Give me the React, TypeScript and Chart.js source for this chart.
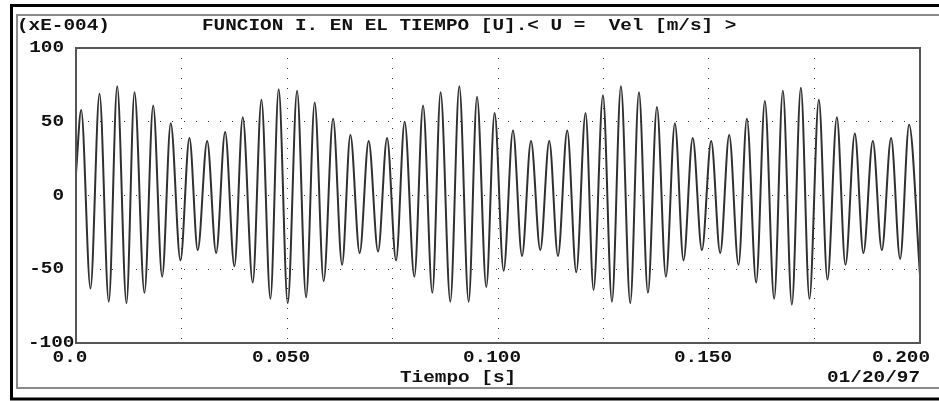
import React, { useEffect, useRef } from "react";
import { Chart, registerables } from "chart.js";

Chart.register(...registerables);

// Signal extremes (time in s, value in units of 1E-4)
const startPoint = [0, 15];
const endPoint = [0.2, -54];

const maxTimes = [
  0.00123, 0.00557, 0.00976, 0.01386, 0.01829, 0.02245, 0.02688, 0.03108, 0.03534, 0.03951,
  0.04394, 0.04803, 0.05239, 0.05656, 0.06092, 0.06502, 0.06935, 0.07371, 0.07788, 0.08224,
  0.0864, 0.09083, 0.09503, 0.09919, 0.10355, 0.10782, 0.11215, 0.11641, 0.12075, 0.12487,
  0.12913, 0.1334, 0.13766, 0.14192, 0.14614, 0.15052, 0.15479, 0.15898, 0.16324, 0.1675,
  0.17177, 0.17603, 0.1803, 0.18456, 0.18882, 0.19315, 0.19742,
];
const maxValues = [
  58, 69, 74, 70, 61, 49, 39, 37, 43, 53,
  65, 72, 71, 63, 52, 41, 37, 39, 50, 61,
  70, 74, 67, 56, 44, 37, 37, 44, 56, 68,
  74, 70, 60, 49, 39, 37, 41, 52, 64, 71,
  73, 65, 53, 42, 37, 39, 48,
];
const minTimes = [
  0.00343, 0.00777, 0.01196, 0.01622, 0.02042, 0.02475, 0.02885, 0.03321, 0.03754, 0.04188,
  0.04607, 0.05017, 0.05452, 0.05869, 0.06305, 0.06722, 0.07158, 0.07584, 0.08018, 0.08444,
  0.0887, 0.09304, 0.09723, 0.10133, 0.10569, 0.11002, 0.11421, 0.11855, 0.12264, 0.127,
  0.13134, 0.13553, 0.13979, 0.14396, 0.14832, 0.15265, 0.15699, 0.16118, 0.16544, 0.16963,
  0.1738, 0.17807, 0.18233, 0.18659, 0.19095, 0.19529,
];
const minValues = [
  -63, -72, -73, -66, -55, -44, -37, -39, -48, -59,
  -70, -73, -69, -58, -47, -39, -38, -44, -55, -66,
  -72, -72, -62, -51, -41, -37, -41, -52, -64, -72,
  -73, -66, -55, -44, -37, -39, -47, -59, -70, -74,
  -70, -57, -47, -39, -37, -43,
];

const xTickValues = [0, 0.05, 0.1, 0.15, 0.2];
const xTickLabels = ["0.0", "0.050", "0.100", "0.150", "0.200"];
const yTickValues = [100, 50, 0, -50, -100];
const yTickLabels = ["100", "50", "0", "-50", "-100"];

const scaleLabel = "(xE-004)";
const titleText = "FUNCION I. EN EL TIEMPO [U].< U =  Vel [m/s] >";
const xAxisTitle = "Tiempo [s]";
const dateText = "01/20/97";

const FONT = 'bold 16px "Liberation Mono", "DejaVu Sans Mono", monospace';
const SX = 1.21;
const TEXT_COLOR = "#111";

function drawText(ctx: CanvasRenderingContext2D, text: string, x: number, y: number, align: "left" | "right" | "center", minLeft = -Infinity) {
  ctx.save();
  ctx.font = FONT;
  ctx.textBaseline = "middle";
  ctx.textAlign = "left";
  const w = ctx.measureText(text).width * SX;
  let left = align === "left" ? x : align === "right" ? x - w : x - w / 2;
  if (left < minLeft) left = minLeft;
  ctx.translate(left, y);
  ctx.scale(SX, 1);
  ctx.fillStyle = TEXT_COLOR;
  ctx.fillText(text, 0, 0);
  ctx.restore();
}

const framePlugin = {
  id: "framePlugin",
  beforeDraw(chart: any) {
    const ctx: CanvasRenderingContext2D = chart.ctx;
    ctx.save();
    ctx.fillStyle = "#fff";
    ctx.fillRect(0, 0, chart.width, chart.height);
    // outer black frame
    ctx.strokeStyle = "#000";
    ctx.lineWidth = 3;
    ctx.beginPath();
    ctx.moveTo(950, 5.5);
    ctx.lineTo(11.5, 5.5);
    ctx.lineTo(11.5, 399);
    ctx.lineTo(950, 399);
    ctx.stroke();
    // inner gray frame
    ctx.strokeStyle = "#8a8a8a";
    ctx.lineWidth = 2;
    ctx.beginPath();
    ctx.moveTo(950, 15);
    ctx.lineTo(17, 15);
    ctx.lineTo(17, 388);
    ctx.lineTo(950, 388);
    ctx.stroke();
    ctx.restore();
  },
  afterDraw(chart: any) {
    const ctx: CanvasRenderingContext2D = chart.ctx;
    const area = chart.chartArea;
    const xs = chart.scales.x;
    const ys = chart.scales.y;
    // plot box
    ctx.save();
    ctx.strokeStyle = "#555";
    ctx.lineWidth = 2;
    ctx.strokeRect(area.left, area.top, area.right - area.left, area.bottom - area.top);
    ctx.restore();

    // titles
    drawText(ctx, scaleLabel, 17, 26, "left");
    drawText(ctx, titleText, 202, 26, "left");

    // y tick labels
    yTickValues.forEach((v, i) => {
      drawText(ctx, yTickLabels[i], area.left - 12, ys.getPixelForValue(v), "right", 28);
    });

    // x tick labels
    ctx.save();
    ctx.font = FONT;
    xTickValues.forEach((v, i) => {
      const w = ctx.measureText(xTickLabels[i]).width * SX;
      let cx = xs.getPixelForValue(v) - 6;
      const maxRight = area.right + 10;
      if (cx + w / 2 > maxRight) cx = maxRight - w / 2;
      drawText(ctx, xTickLabels[i], cx, 357.5, "center");
    });
    ctx.restore();

    drawText(ctx, xAxisTitle, 400, 378, "left");
    drawText(ctx, dateText, 920, 378, "right");
  },
};

export default function App() {
  const canvasRef = useRef<HTMLCanvasElement | null>(null);

  useEffect(() => {
    if (!canvasRef.current) return;
    const points: { x: number; y: number }[] = [{ x: startPoint[0], y: startPoint[1] }];
    for (let i = 0; i < maxTimes.length; i++) {
      points.push({ x: maxTimes[i], y: maxValues[i] });
      if (i < minTimes.length) points.push({ x: minTimes[i], y: minValues[i] });
    }
    points.push({ x: endPoint[0], y: endPoint[1] });

    const chart = new Chart(canvasRef.current, {
      type: "line",
      data: {
        datasets: [
          {
            data: points,
            borderColor: "#303030",
            borderWidth: 2,
            pointRadius: 0,
            fill: false,
            cubicInterpolationMode: "monotone",
          },
        ],
      },
      options: {
        animation: false,
        responsive: false,
        events: [],
        layout: { padding: { left: 76, top: 48, right: 19, bottom: 58 } },
        plugins: {
          legend: { display: false },
          tooltip: { enabled: false },
          title: { display: false },
        },
        scales: {
          x: {
            type: "linear",
            min: 0,
            max: 0.2,
            ticks: { display: false, stepSize: 0.025 },
            grid: {
              drawTicks: false,
              lineWidth: 1,
              color: (c: any) => (c.tick && c.tick.value > 0.0001 && c.tick.value < 0.1999 ? "#333" : "rgba(0,0,0,0)"),
            },
            border: { display: false, dash: [1, 9] },
          },
          y: {
            type: "linear",
            min: -100,
            max: 100,
            ticks: { display: false, stepSize: 50 },
            grid: {
              drawTicks: false,
              lineWidth: 1,
              color: (c: any) => (c.tick && c.tick.value > -99 && c.tick.value < 99 ? "#333" : "rgba(0,0,0,0)"),
            },
            border: { display: false, dash: [1, 11] },
          },
        },
      },
      plugins: [framePlugin],
    });
    return () => chart.destroy();
  }, []);

  return (
    <div style={{ position: "fixed", left: 0, top: 0, width: 939, height: 401, background: "#fff" }}>
      <canvas ref={canvasRef} width={939} height={401} style={{ display: "block" }} />
    </div>
  );
}
